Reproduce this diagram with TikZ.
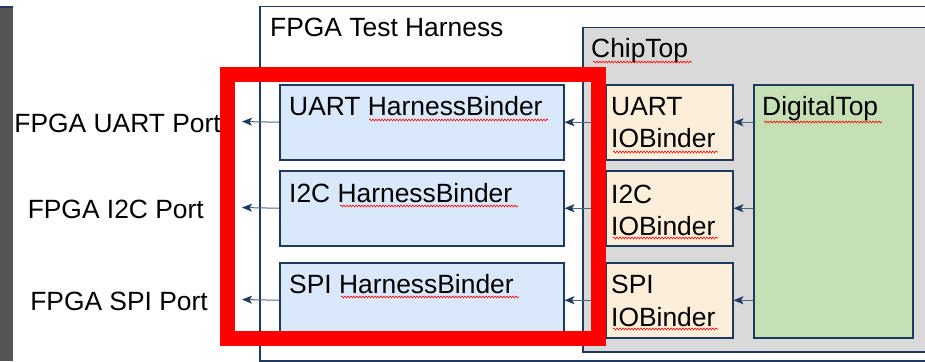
\documentclass[tikz,border=0pt]{standalone}
\usepackage{fontspec}
\setmainfont{Liberation Sans}
\usetikzlibrary{arrows.meta,decorations.pathmorphing}
\definecolor{navy}{HTML}{1F3A5E}
\definecolor{shaft}{HTML}{4A6A8C}
\definecolor{hbfill}{HTML}{DAE8FC}
\definecolor{iofill}{HTML}{FDEEDA}
\definecolor{dtfill}{HTML}{C5E0B4}
\definecolor{ctfill}{HTML}{D9D9D9}
\definecolor{strip}{HTML}{555555}
\begin{document}
\begin{tikzpicture}[x=1pt,y=-1pt,
  box/.style={draw=navy,line width=1.5pt,inner sep=0pt,anchor=north west},
  lbl/.style={inner sep=0pt,anchor=base west,font=\fontsize{26.4}{32}\selectfont},
  port/.style={inner sep=0pt,anchor=base east,font=\fontsize{26.4}{32}\selectfont},
  arr/.style={draw=shaft,line width=1pt,-{Stealth[length=10pt,width=8pt,inset=2.5pt,color=navy]}},
  squig/.style={draw=red,line width=0.6pt,decorate,decoration={snake,segment length=3pt,amplitude=0.9pt}},
  redframe/.style={draw=red,line width=15pt}]
\useasboundingbox (0,0) rectangle (925,361);
% left strip
\fill[strip] (0,7) rectangle (13,361);
\draw[navy,line width=1.5pt] (0,7) -- (13,7);
% containers
\node[box,fill=white,minimum width=680pt,minimum height=354pt] (th) at (259,6) {};
\node[box,fill=ctfill,minimum width=350pt,minimum height=324pt] (ct) at (582,27) {};
% harness binders
\node[box,fill=hbfill,minimum width=284pt,minimum height=75pt] (hbU) at (279,84) {};
\node[box,fill=hbfill,minimum width=284pt,minimum height=75pt] (hbI) at (279,170) {};
\node[box,fill=hbfill,minimum width=284pt,minimum height=75pt] (hbS) at (279,262) {};
% io binders
\node[box,fill=iofill,minimum width=127pt,minimum height=75pt] (ioU) at (605,84) {};
\node[box,fill=iofill,minimum width=127pt,minimum height=75pt] (ioI) at (605,170) {};
\node[box,fill=iofill,minimum width=127pt,minimum height=75pt] (ioS) at (605,262) {};
% digital top
\node[box,fill=dtfill,minimum width=159pt,minimum height=253pt] (dt) at (753,84) {};
% labels
\node[lbl] (thl) at (270,37) {FPGA Test Harness};
\node[lbl] (ctl) at (591,58) {ChipTop};
\node[lbl] (dtl) at (762,115) {DigitalTop};
\node[lbl] (hbUl) at (289,115) {UART HarnessBinder};
\node[lbl] (hbIl) at (289,202) {I2C HarnessBinder};
\node[lbl] (hbSl) at (289,293) {SPI HarnessBinder};
\node[lbl] (ioUa) at (611,115) {UART};
\node[lbl] (ioUb) at (611,147.5) {IOBinder};
\node[lbl] (ioIa) at (611,203) {I2C};
\node[lbl] (ioIb) at (611,235) {IOBinder};
\node[lbl] (ioSa) at (611,293) {SPI};
\node[lbl] (ioSb) at (611,326.5) {IOBinder};
\node[port] (pU) at (221,132) {FPGA UART Port};
\node[port] (pI) at (204,218) {FPGA I2C Port};
\node[port] (pS) at (208,310) {FPGA SPI Port};
% arrow end points
\coordinate (tU) at (242,121.5);
\coordinate (tI) at (242,207.5);
\coordinate (tS) at (242,299.5);
% connectors
\draw[arr] (dt.west |- ioU.east) -- (ioU.east);
\draw[arr] (dt.west |- ioI.east) -- (ioI.east);
\draw[arr] (dt.west |- ioS.east) -- (ioS.east);
\draw[arr] (ioU.west) -- (hbU.east);
\draw[arr] (ioI.west) -- (hbI.east);
\draw[arr] (ioS.west) -- (hbS.east);
\draw[arr] (hbU.west) -- (tU);
\draw[arr] (hbI.west) -- (tI);
\draw[arr] (hbS.west) -- (tS);
% spell-check squiggles
\draw[squig] (369,120) -- (548,120);
\draw[squig] (340,206) -- (518,206);
\draw[squig] (341,297) -- (519,297);
\draw[squig] (593,62) -- (692,62);
\draw[squig] (764,122) -- (882,122);
\draw[squig] (613,152) -- (718,152);
\draw[squig] (613,238) -- (718,238);
\draw[squig] (613,329) -- (718,329);
% highlight frame
\draw[redframe] (227.5,74.5) rectangle (598.5,338);
\end{tikzpicture}
\end{document}
